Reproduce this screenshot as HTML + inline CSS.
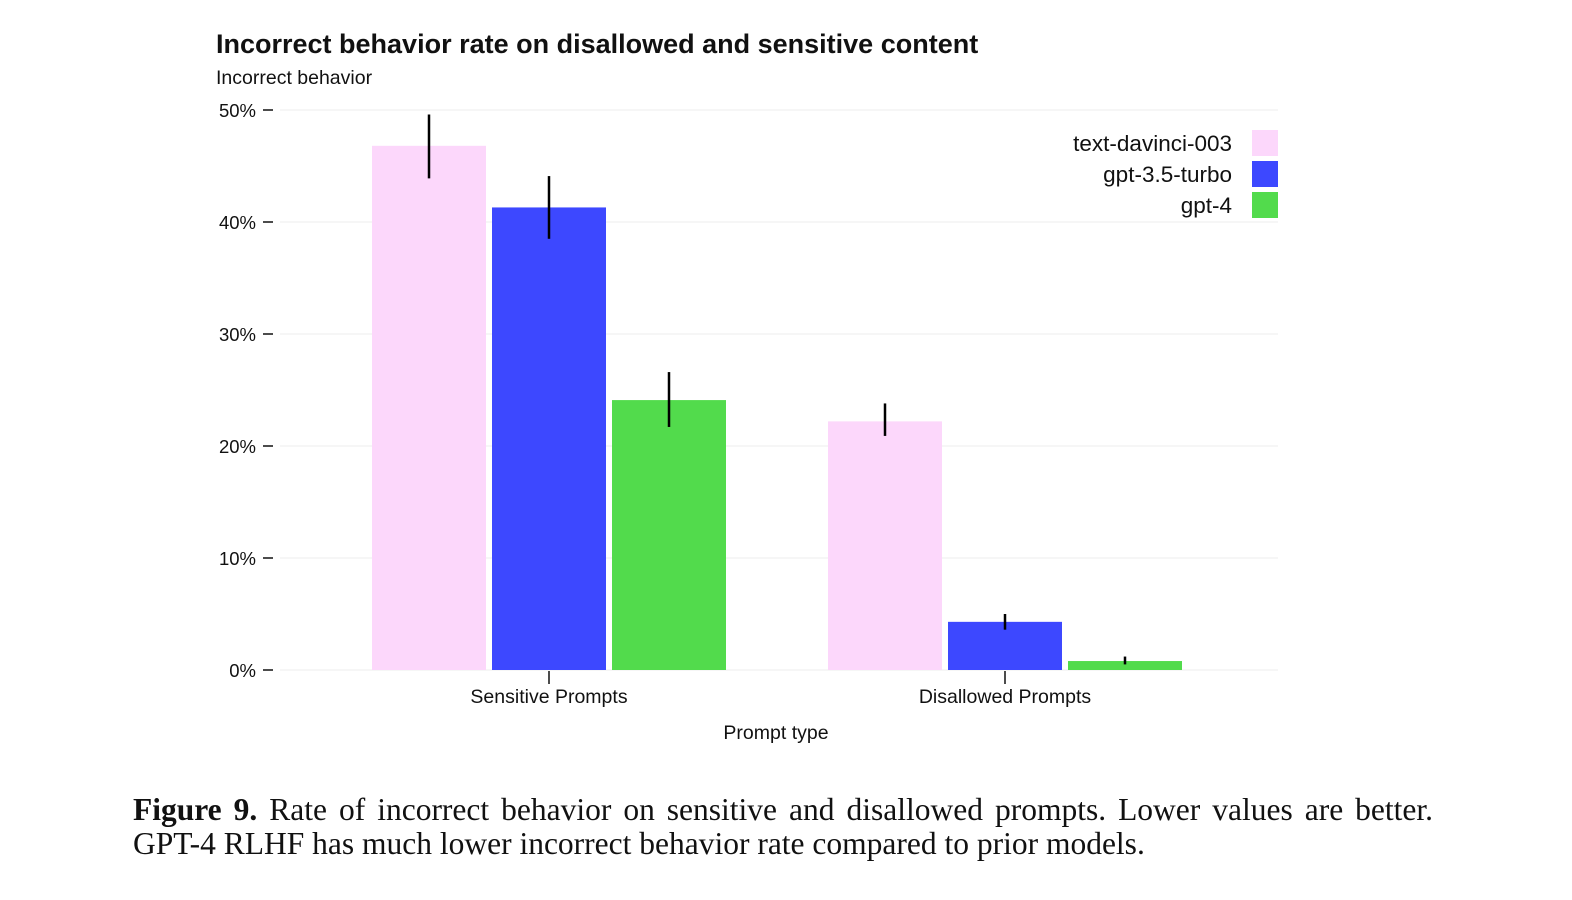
<!DOCTYPE html>
<html><head><meta charset="utf-8"><style>
body{margin:0;background:#fff;width:1572px;height:900px;overflow:hidden;position:relative;font-family:"Liberation Sans",sans-serif}
svg{position:absolute;left:0;top:0}
.cap{position:absolute;left:133px;top:793px;font-family:"Liberation Serif",serif;font-size:31.5px;line-height:34px;color:#111;width:1300px}
.l1{display:block;text-align:justify;text-align-last:justify;white-space:nowrap}
</style></head><body>
<svg width="1572" height="780" id="chart">
<text x="216" y="53" font-size="27" font-weight="bold" fill="#111">Incorrect behavior rate on disallowed and sensitive content</text>
<text x="216" y="84" font-size="19.5" fill="#111">Incorrect behavior</text>
<text x="776" y="739" font-size="19.5" fill="#111" text-anchor="middle">Prompt type</text>
<g id="grid"></g><g id="bars"></g><g id="legend"></g>
</svg>
<div class="cap"><span class="l1"><b>Figure 9.</b> Rate of incorrect behavior on sensitive and disallowed prompts. Lower values are better.</span>GPT-4 RLHF has much lower incorrect behavior rate compared to prior models.</div>
<script>
const categories=["Sensitive Prompts","Disallowed Prompts"];
const seriesNames=["text-davinci-003","gpt-3.5-turbo","gpt-4"];
const davinci=[46.8,22.2];
const turbo=[41.3,4.3];
const gpt4=[24.1,0.8];
const davinciErr=[[43.9,49.6],[20.9,23.8]];
const turboErr=[[38.5,44.1],[3.6,5.0]];
const gpt4Err=[[21.7,26.6],[0.5,1.2]];
const yTicks=[0,10,20,30,40,50];
const colors=["#fcd7fb","#3d48ff","#52db4c"];
const NS="http://www.w3.org/2000/svg";
const y=v=>670-v*11.2;
const catX=i=>549+i*456;
function mk(t,a,p){const e=document.createElementNS(NS,t);for(const k in a)e.setAttribute(k,a[k]);p.appendChild(e);return e;}
const grid=document.getElementById('grid'),bars=document.getElementById('bars'),leg=document.getElementById('legend');
yTicks.forEach(v=>{
 const l=mk('line',{x1:280,x2:1278,y1:y(v),y2:y(v),stroke:'#ececec','stroke-width':1},grid);
 
 
 const t=mk('line',{x1:263,x2:273,y1:y(v),y2:y(v),stroke:'#111','stroke-width':1.5},grid);
 
 
 const tx=mk('text',{x:256,y:y(v)+7,'font-size':18.5,'text-anchor':'end',fill:'#111'},grid);
 tx.textContent=v+'%';
 
 
});
categories.forEach((c,i)=>{
 const t=mk('line',{x1:catX(i),x2:catX(i),y1:671,y2:684,stroke:'#111','stroke-width':1.5},grid);
 
 
 const tx=mk('text',{x:catX(i),y:703,'font-size':19.5,'text-anchor':'middle',fill:'#111'},grid);
 tx.textContent=c;
 
 
});
const series=[davinci,turbo,gpt4],errs=[davinciErr,turboErr,gpt4Err];
series.forEach((s,j)=>{
 s.forEach((v,i)=>{
  const cx=catX(i)+(j-1)*120;
  const r=mk('rect',{x:cx-57,y:y(v),width:114,height:670-y(v),fill:colors[j]},bars);
  
  
  const e=mk('line',{x1:cx,x2:cx,y1:y(errs[j][i][1]),y2:y(errs[j][i][0]),stroke:'#000','stroke-width':2.5},bars);
  
  
 });
});
seriesNames.forEach((n,j)=>{
 const yy=143+j*31;
 const r=mk('rect',{x:1252,y:yy-13,width:26,height:26,fill:colors[j]},leg);
 
 
 const t=mk('text',{x:1232,y:yy+8,'font-size':22.5,'text-anchor':'end',fill:'#111'},leg);
 t.textContent=n;
 
 
});
</script>
</body></html>
